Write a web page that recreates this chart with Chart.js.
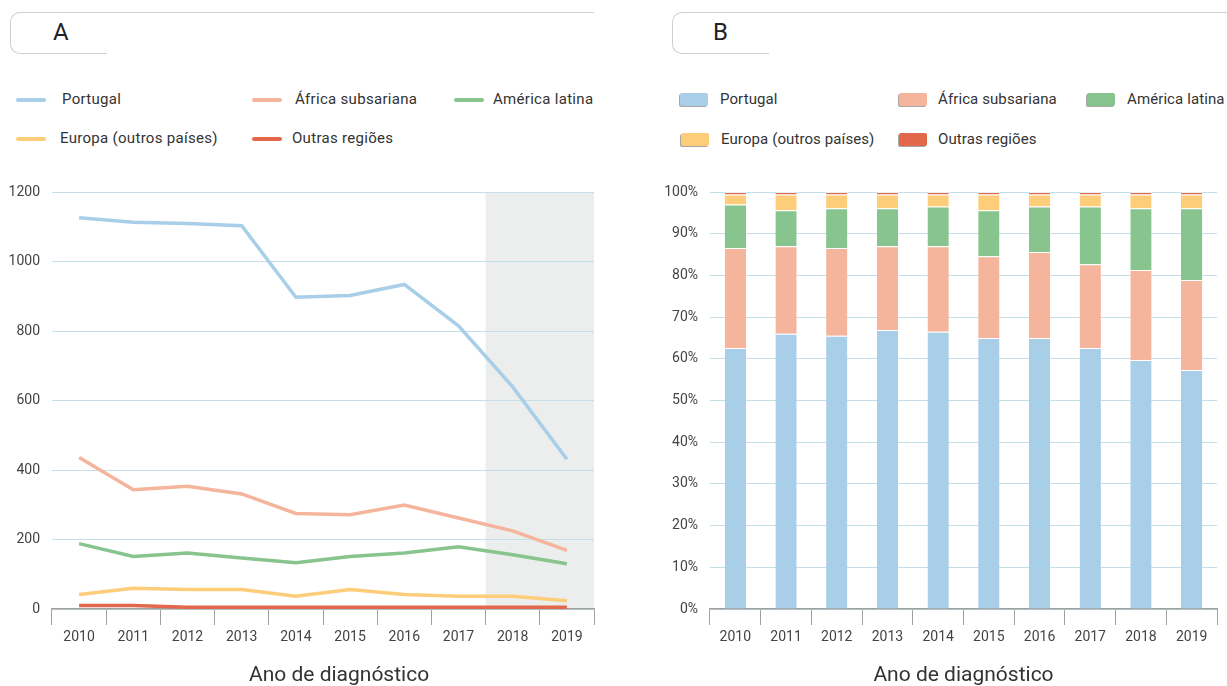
<!DOCTYPE html>
<html lang="pt">
<head>
<meta charset="utf-8">
<script src="https://cdn.jsdelivr.net/npm/chart.js@4/dist/chart.umd.min.js"></script>
<style>
  body { margin: 0; background: #fff; font-family: Roboto, "Noto Sans", sans-serif; color: #333; }
  #page { position: relative; width: 1227px; height: 686px; overflow: hidden; }
  .tab { position: absolute; top: 12px; height: 40px; width: 96px; border: 1px solid #cfcfcf; border-right: none; border-radius: 10px 0 0 10px; }
  .tabLine { position: absolute; top: 12px; height: 0; border-top: 1px solid #cfcfcf; }
  .tabLabel { position: absolute; top: 18px; font-size: 24px; color: #222; }
  .legend { position: absolute; font-size: 15px; letter-spacing: 0.3px; color: #333; }
  #legendB { letter-spacing: 0.1px; }
  .legItem { position: absolute; white-space: nowrap; }
  .legItem .mk { position: absolute; }
  canvas { position: absolute; }
</style>
</head>
<body>
<div id="page">
  <div class="tab" style="left:10px"></div>
  <div class="tabLine" style="left:20px; width:574px"></div>
  <div class="tabLabel" style="left:53px">A</div>

  <div class="tab" style="left:672px"></div>
  <div class="tabLine" style="left:682px; width:545px"></div>
  <div class="tabLabel" style="left:713px">B</div>

  <div id="legendA" class="legend"></div>
  <div id="legendB" class="legend"></div>

  <canvas id="chartA" style="left:0; top:170px" width="600" height="516"></canvas>
  <canvas id="chartB" style="left:660px; top:170px" width="567" height="516"></canvas>
</div>

<script>
const years = ['2010', '2011', '2012', '2013', '2014', '2015', '2016', '2017', '2018', '2019'];
const regions = ['Portugal', 'África subsariana', 'América latina', 'Europa (outros países)', 'Outras regiões'];
const colors = ['#a8cee8', '#f4b59c', '#88c48d', '#fdcd7a', '#e3674a'];

// A: número de casos por ano
const portugal = [1126, 1113, 1109, 1103, 897, 902, 934, 815, 639, 431];
const africa = [436, 343, 353, 331, 275, 271, 299, 262, 225, 169];
const americaLatina = [188, 151, 161, 147, 133, 151, 161, 179, 156, 130];
const europa = [42, 60, 56, 56, 37, 56, 42, 37, 37, 24];
const outras = [10, 10, 5, 5, 5, 5, 5, 5, 5, 5];
const yTicksA = [0, 200, 400, 600, 800, 1000, 1200];
const shadedFrom = '2018';

// B: distribuição percentual
const portugalPct = [62.6, 66.0, 65.5, 66.9, 66.5, 65.0, 65.0, 62.6, 59.7, 57.3];
const africaPct = [24.0, 21.0, 21.1, 20.1, 20.5, 19.6, 20.6, 20.1, 21.6, 21.6];
const americaPct = [10.4, 8.6, 9.5, 9.1, 9.5, 11.0, 10.9, 13.8, 14.8, 17.2];
const europaPct = [2.4, 3.8, 3.3, 3.3, 2.9, 3.8, 2.9, 2.9, 3.3, 3.3];
const outrasPct = [0.6, 0.6, 0.6, 0.6, 0.6, 0.6, 0.6, 0.6, 0.6, 0.6];

const countsA = [portugal, africa, americaLatina, europa, outras];
const pctsB = [portugalPct, africaPct, americaPct, europaPct, outrasPct];

const tickFont = { family: 'Roboto', size: 14 };
const tickColor = '#444';
const gridColor = '#c4dfe7';
const axisColor = '#a0a0a0';
const xTitle = 'Ano de diagnóstico';

// legend positions [markerLeft, textLeft, top]
const legendSlotsA = [[16, 62, 90], [252, 295, 90], [454, 493, 90], [16, 60, 129], [252, 292, 129]];
const legendSlotsB = [[680, 720, 90], [899, 938, 90], [1087, 1127, 90], [681, 721, 130], [899, 938, 130]];

function buildLegend(el, chart, slots, kind) {
  chart.data.datasets.forEach((ds, i) => {
    const [mx, tx, top] = slots[i];
    const item = document.createElement('div');
    item.className = 'legItem';
    item.style.left = '0px';
    item.style.top = top + 'px';
    const mk = document.createElement('span');
    mk.className = 'mk';
    if (kind === 'line') {
      mk.style.cssText = `left:${mx}px; top:8px; width:30px; height:4px; border-radius:2px; background:${ds.borderColor}`;
    } else {
      mk.style.cssText = `left:${mx}px; top:3px; width:28px; height:13px; border-radius:2px; background:${ds.backgroundColor}; box-shadow:-1px 1px 0 rgba(0,0,0,0.35)`;
    }
    const label = document.createElement('span');
    label.style.position = 'absolute';
    label.style.left = tx + 'px';
    label.textContent = ds.label;
    item.appendChild(mk);
    item.appendChild(label);
    el.appendChild(item);
  });
}

const shadePlugin = {
  id: 'shade',
  beforeDraw(chart) {
    const x = chart.scales.x;
    const area = chart.chartArea;
    const idx = years.indexOf(shadedFrom);
    const left = x.getPixelForValue(idx - 0.5);
    const ctx = chart.ctx;
    ctx.save();
    ctx.fillStyle = '#eceeed';
    ctx.fillRect(left, area.top, area.right - left, area.bottom - area.top);
    ctx.restore();
  }
};

function xAxis(titleText) {
  return {
    offset: true,
    grid: { offset: true, drawOnChartArea: false, drawTicks: true, tickLength: 16, color: axisColor, lineWidth: 1 },
    border: { color: axisColor, width: 1.5 },
    ticks: { font: tickFont, color: tickColor, padding: 4, autoSkip: false, maxRotation: 0 },
    title: { display: true, text: titleText, font: { family: 'Roboto', size: 21, lineHeight: 1 }, color: '#333', padding: { top: 0, bottom: 0 } },
    afterFit(scale) { scale.height = 77; }
  };
}

const chartA = new Chart(document.getElementById('chartA'), {
  type: 'line',
  data: {
    labels: years,
    datasets: regions.map((r, i) => ({
      label: r,
      data: countsA[i],
      borderColor: colors[i],
      backgroundColor: colors[i],
      borderWidth: 3.5,
      pointRadius: 0,
      tension: 0,
      fill: false
    }))
  },
  options: {
    responsive: false,
    animation: false,
    layout: { padding: { top: 22, right: 6, left: 0, bottom: 0 } },
    plugins: { legend: { display: false }, tooltip: { enabled: false } },
    scales: {
      // title sits a little right of the plot centre in the original
      x: xAxis('\u2002\u2002\u2002' + xTitle),
      y: {
        min: 0, max: 1200,
        afterBuildTicks(scale) { scale.ticks = yTicksA.map(v => ({ value: v })); },
        grid: { color: gridColor, drawTicks: false, lineWidth: 1 },
        border: { display: false },
        ticks: { font: tickFont, color: tickColor, padding: 12, callback: v => String(v) },
        afterFit(scale) { scale.width = 52; }
      }
    }
  },
  plugins: [shadePlugin]
});

const chartB = new Chart(document.getElementById('chartB'), {
  type: 'bar',
  data: {
    labels: years,
    datasets: regions.map((r, i) => ({
      label: r,
      data: pctsB[i],
      backgroundColor: colors[i],
      borderColor: 'rgba(255,255,255,0.55)',
      borderWidth: { top: 1, left: 0, right: 0, bottom: 0 },
      borderSkipped: false,
      barPercentage: 0.42,
      categoryPercentage: 1
    }))
  },
  options: {
    responsive: false,
    animation: false,
    layout: { padding: { top: 22, right: 10, left: 0, bottom: 0 } },
    plugins: { legend: { display: false }, tooltip: { enabled: false } },
    scales: {
      x: Object.assign(xAxis(xTitle), { stacked: true }),
      y: {
        stacked: true,
        min: 0, max: 100,
        grid: { color: gridColor, drawTicks: false, lineWidth: 1 },
        border: { display: false },
        ticks: { stepSize: 10, font: tickFont, color: tickColor, padding: 12, callback: v => v + '%' },
        afterFit(scale) { scale.width = 50; }
      }
    }
  }
});

buildLegend(document.getElementById('legendA'), chartA, legendSlotsA, 'line');
buildLegend(document.getElementById('legendB'), chartB, legendSlotsB, 'box');
</script>
</body>
</html>
